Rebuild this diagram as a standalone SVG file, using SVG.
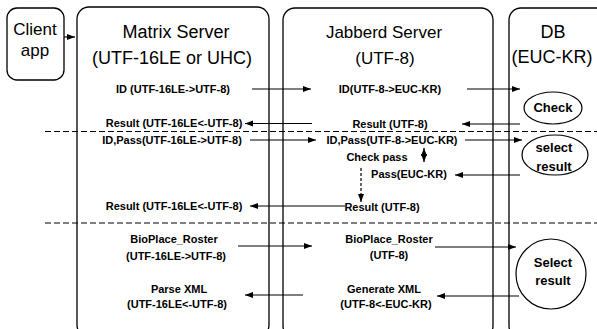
<svg xmlns="http://www.w3.org/2000/svg" width="597" height="329" viewBox="0 0 597 329">
<style>
.box{fill:none;stroke:#000;stroke-width:1.3}
.ell{fill:#fff;stroke:#000;stroke-width:1.2}
.t{font-family:"Liberation Sans",Arial,sans-serif;fill:#000;text-anchor:middle}
.title{font-size:17px}
.big{font-size:18px}
.lbl{font-size:11px;font-weight:bold}
.dbl{font-size:13px;font-weight:bold}
.ln{stroke:#000;stroke-width:1.2;fill:none}
.arr{marker-end:url(#ah)}
.dash{stroke:#000;stroke-width:1.2;stroke-dasharray:6 3;fill:none}
</style>
<defs>
<marker id="ah" markerUnits="userSpaceOnUse" markerWidth="9" markerHeight="7" refX="8" refY="3" orient="auto-start-reverse">
<path d="M0,0 L8,3 L0,6 z" fill="#000"/>
</marker>
</defs>
<rect width="597" height="329" fill="#fff"/>

<g id="client">
<rect class="box" x="7" y="8" width="57" height="72" rx="10"/>
<text class="t title" x="35" y="35">Client</text>
<text class="t title" x="35" y="56">app</text>
</g>

<g id="matrix">
<rect class="box" x="77" y="7" width="192" height="330" rx="12"/>
<text class="t big" x="176" y="38">Matrix Server</text>
<text class="t big" x="172" y="64">(UTF-16LE or UHC)</text>
<text class="t lbl" x="173" y="93">ID (UTF-16LE-&gt;UTF-8)</text>
<text class="t lbl" x="174" y="127">Result (UTF-16LE&lt;-UTF-8)</text>
<text class="t lbl" x="172" y="144">ID,Pass(UTF-16LE-&gt;UTF-8)</text>
<text class="t lbl" x="174" y="210">Result (UTF-16LE&lt;-UTF-8)</text>
<text class="t lbl" x="174" y="243">BioPlace_Roster</text>
<text class="t lbl" x="176" y="260">(UTF-16LE-&gt;UTF-8)</text>
<text class="t lbl" x="179" y="293">Parse XML</text>
<text class="t lbl" x="177" y="308">(UTF-16LE&lt;-UTF-8)</text>
</g>

<g id="jabberd">
<rect class="box" x="283" y="8" width="210" height="330" rx="12"/>
<text class="t title" x="384" y="38">Jabberd Server</text>
<text class="t title" x="385" y="64">(UTF-8)</text>
<text class="t lbl" x="390" y="93">ID(UTF-8-&gt;EUC-KR)</text>
<text class="t lbl" x="390" y="128">Result (UTF-8)</text>
<text class="t lbl" x="392" y="144">ID,Pass(UTF-8-&gt;EUC-KR)</text>
<text class="t lbl" x="377" y="161">Check pass</text>
<text class="t lbl" x="409" y="178">Pass(EUC-KR)</text>
<text class="t lbl" x="382" y="211">Result (UTF-8)</text>
<text class="t lbl" x="389" y="243">BioPlace_Roster</text>
<text class="t lbl" x="389" y="259">(UTF-8)</text>
<text class="t lbl" x="384" y="293">Generate XML</text>
<text class="t lbl" x="386" y="308">(UTF-8&lt;-EUC-KR)</text>
</g>

<g id="db">
<rect class="box" x="509" y="8" width="100" height="330" rx="12"/>
<text class="t big" x="553" y="38">DB</text>
<text class="t big" x="552" y="63">(EUC-KR)</text>
</g>

<g id="check">
<ellipse class="ell" cx="553" cy="108" rx="29" ry="16"/>
<text class="t dbl" x="553" y="112">Check</text>
</g>

<g id="select1">
<ellipse class="ell" cx="555" cy="155" rx="33" ry="20"/>
<text class="t dbl" x="554" y="152">select</text>
<text class="t dbl" x="554" y="171">result</text>
</g>

<g id="select2">
<circle class="ell" cx="551" cy="274" r="35"/>
<text class="t dbl" x="553" y="267">Select</text>
<text class="t dbl" x="553" y="285">result</text>
</g>

<g id="connectors">
<line class="ln arr" x1="64" y1="37" x2="75" y2="37"/>
<line class="dash" x1="45" y1="131.5" x2="597" y2="131.5"/>
<line class="dash" x1="45" y1="223" x2="597" y2="223"/>
<line class="ln arr" x1="252" y1="89" x2="311" y2="89"/>
<line class="ln arr" x1="467" y1="89" x2="520" y2="89"/>
<line class="ln arr" x1="312" y1="123.5" x2="245" y2="123.5"/>
<line class="ln arr" x1="520" y1="124" x2="462" y2="124"/>
<line class="ln arr" x1="250" y1="140" x2="316" y2="140"/>
<line class="ln arr" x1="465" y1="140" x2="522" y2="140"/>
<line class="ln" x1="424" y1="148" x2="424" y2="162" marker-start="url(#ah)" marker-end="url(#ah)"/>
<line class="ln arr" x1="520" y1="175" x2="455" y2="175"/>
<line class="ln" x1="361" y1="168" x2="361" y2="196" stroke-dasharray="3 2"/>
<line class="ln arr" x1="361" y1="194" x2="361" y2="202"/>
<line class="ln arr" x1="345" y1="206" x2="250" y2="206"/>
<line class="ln arr" x1="238" y1="246" x2="312" y2="246"/>
<line class="ln arr" x1="435" y1="247" x2="516" y2="247"/>
<line class="ln arr" x1="303" y1="295" x2="245" y2="295"/>
<line class="ln arr" x1="519" y1="296" x2="437" y2="296"/>
</g>
</svg>
